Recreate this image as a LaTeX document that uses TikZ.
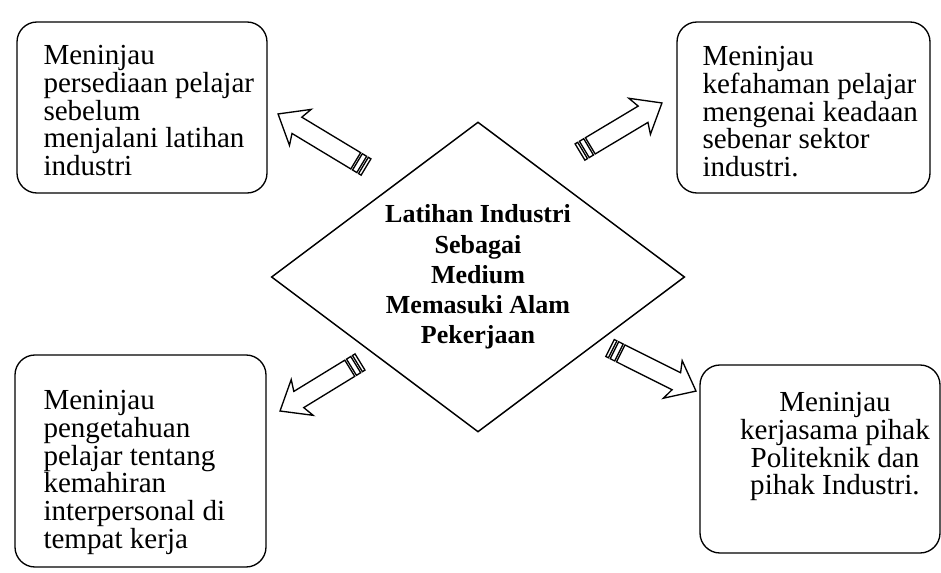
\documentclass[tikz,border=0pt]{standalone}
\usepackage{fontspec}
\setmainfont{Liberation Serif}
\usetikzlibrary{shapes.geometric,fit}
\tikzset{every picture/.style={line width=0.75pt}}
\tikzset{
  kotak/.style={draw, rounded corners=15pt, inner sep=0pt, line width=1pt},
  teks/.style={align=left, inner sep=0pt, font=\fontsize{21.8}{20.8}\selectfont},
  ketupat/.style={draw, shape=diamond, aspect=1.333, line width=1.1pt, minimum width=310pt, minimum height=232.5pt, inner sep=0pt, align=center, font=\fontsize{19.5}{22.6}\selectfont\bfseries},
  panah/.style={draw, fill=white, line width=1pt, line join=miter},
}

\begin{document}
\begin{tikzpicture}[x=0.75pt,y=0.75pt,yscale=-1,xscale=1]
\useasboundingbox (0,0) rectangle (941,573);

%Shape: Diamond
\node [ketupat] (tengah) at (478,277) {Latihan Industri\\Sebagai\\Medium\\Memasuki Alam\\Pekerjaan};

%Rounded Rect
\node [kotak, fit={(17,22) (267,193)}] (kotakA) {};
\node [kotak, fit={(677,22) (930,193)}] (kotakB) {};
\node [kotak, fit={(15,355) (266,567)}] (kotakC) {};
\node [kotak, fit={(700,365) (940,553)}] (kotakD) {};

% Text Node
\node [teks, anchor=north west] (teksA) at (43,45) {Meninjau\\persediaan pelajar\\sebelum\\menjalani latihan\\industri};
% Text Node
\node [teks, anchor=north west] (teksB) at (702,46) {Meninjau\\kefahaman pelajar\\mengenai keadaan\\sebenar sektor\\industri.};
% Text Node
\node [teks, anchor=north west] (teksC) at (43,390) {Meninjau\\pengetahuan\\pelajar tentang\\kemahiran\\interpersonal di\\tempat kerja};
% Text Node
\node [teks, align=center, anchor=north] (teksD) at (835,392) {Meninjau\\kerjasama pihak\\Politeknik dan\\pihak Industri.};

%Striped Arrows
\foreach \x/\y/\sudut/\pjg in {366/167/211.1/102.7, 580/152/-30.9/95.5, 360/362/148.5/93.8, 610/348/26.6/96.2} {
  \begin{scope}[shift={(\x,\y)}, rotate=\sudut]
    \draw [panah] (0,-9.5) rectangle (3,9.5);
    \draw [panah] (5,-9.5) rectangle (10,9.5);
    \draw [panah] (12,-9.5) -- ({\pjg-22},-9.5) -- ({\pjg-26},-21) -- (\pjg,0) -- ({\pjg-26},21) -- ({\pjg-22},9.5) -- (12,9.5) -- cycle;
  \end{scope}
}
\end{tikzpicture}
\end{document}
